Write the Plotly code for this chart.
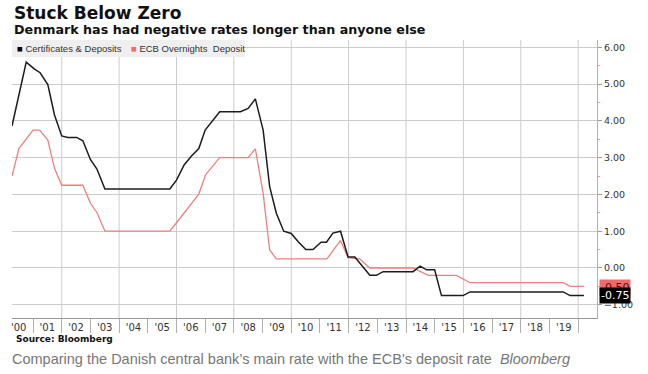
import plotly.graph_objects as go

# ---- data ----
dk_dates = ["2000-04-08", "2000-10-06", "2001-01-20", "2001-04-01", "2001-07-08", "2001-10-01",
            "2002-01-01", "2002-03-20", "2002-07-10", "2002-09-27", "2003-01-01", "2003-03-25",
            "2003-07-05", "2005-10-08", "2006-01-01", "2006-04-08", "2006-07-08", "2006-10-12",
            "2007-01-01", "2007-04-12", "2007-07-05", "2008-03-25", "2008-07-01", "2008-10-01",
            "2009-01-08", "2009-04-01", "2009-06-25", "2009-09-27", "2010-01-01", "2010-03-28",
            "2010-07-05", "2010-10-05", "2011-01-15", "2011-03-25", "2011-06-15", "2011-09-20",
            "2011-12-25", "2012-03-20", "2012-09-27", "2012-12-20", "2013-03-15", "2014-04-01",
            "2014-06-28", "2014-09-20", "2014-12-31", "2015-03-28", "2015-12-28", "2016-03-25",
            "2019-06-25", "2019-09-20", "2020-03-15"]
dk_values = [3.86, 5.60, 5.41, 5.31, 4.99, 4.16,
             3.59, 3.55, 3.55, 3.46, 2.95, 2.69,
             2.15, 2.15, 2.39, 2.80, 3.04, 3.25,
             3.75, 4.02, 4.25, 4.25, 4.34, 4.60,
             3.75, 2.21, 1.49, 1.00, 0.94, 0.72,
             0.50, 0.50, 0.70, 0.70, 0.95, 1.00,
             0.30, 0.30, -0.20, -0.20, -0.10, -0.10,
             0.05, -0.05, -0.05, -0.75, -0.75, -0.65,
             -0.65, -0.75, -0.75]

ecb_dates = ["2000-04-08", "2000-07-05", "2001-01-01", "2001-03-25", "2001-07-08", "2001-10-01",
             "2002-01-01", "2002-09-27", "2003-01-01", "2003-03-25", "2003-07-05", "2005-10-08",
             "2006-01-01", "2006-10-12", "2007-01-05", "2007-07-05", "2008-07-01", "2008-10-01",
             "2009-01-08", "2009-04-01", "2009-06-25", "2011-04-01", "2011-09-20", "2011-12-25",
             "2012-05-20", "2012-09-27", "2014-04-01", "2014-06-28", "2014-10-10", "2015-10-05",
             "2016-03-25", "2019-06-25", "2019-09-20", "2020-03-15"]
ecb_values = [2.50, 3.25, 3.75, 3.75, 3.48, 2.71,
              2.25, 2.25, 1.76, 1.51, 1.00, 1.00,
              1.23, 2.01, 2.53, 3.00, 3.00, 3.24,
              2.03, 0.49, 0.25, 0.25, 0.75, 0.28,
              0.25, 0.00, 0.00, -0.10, -0.20, -0.20,
              -0.40, -0.40, -0.50, -0.50]

years = list(range(2000, 2020))
year_labels = ["'00", "'01", "'02", "'03", "'04", "'05", "'06", "'07", "'08", "'09",
               "'10", "'11", "'12", "'13", "'14", "'15", "'16", "'17", "'18", "'19"]
grid_years = list(range(2002, 2021, 2))

series_names = ["Certificates & Deposits", "ECB Overnights  Deposit"]
last_labels = ["-0.75", "-0.50"]

# ---- styling ----
BLACK = "#1c1c1c"
RED = "#f07f7f"
AXIS_RED = "#f29595"
GRID = "#cccccc"
X_RANGE = ["2000-04-08", "2020-08-28"]
Y_RANGE = [-1.36, 6.2]

L, R, T, B = 12, 51, 40, 56
W, H = 648, 374
PH = H - T - B
PW = W - L - R


def px(xp):
    return (xp - L) / PW


def py(yp):
    return (H - B - yp) / PH


fig = go.Figure()
fig.add_trace(go.Scatter(x=ecb_dates, y=ecb_values, mode="lines", name=series_names[1],
                         line=dict(color=RED, width=1.3), showlegend=False))
fig.add_trace(go.Scatter(x=dk_dates, y=dk_values, mode="lines", name=series_names[0],
                         line=dict(color=BLACK, width=1.5), showlegend=False))

fig.update_layout(
    width=W, height=H,
    margin=dict(l=L, r=R, t=T, b=B, pad=0),
    paper_bgcolor="white", plot_bgcolor="white",
    font=dict(family="DejaVu Sans", color="#333"),
    xaxis=dict(
        type="date", range=X_RANGE, autorange=False,
        tickmode="array",
        tickvals=[f"{y}-07-02" for y in years],
        ticktext=year_labels,
        ticks="", showgrid=False, zeroline=False,
        showline=True, linecolor="#9a9a9a", linewidth=1,
        tickfont=dict(size=10, color="#333"),
        minor=dict(tickmode="linear", tick0="2000-01-01", dtick="M12",
                   ticks="outside", ticklen=14, tickcolor="#b0b0b0", showgrid=False),
    ),
    yaxis=dict(
        range=Y_RANGE, side="right", dtick=1, tick0=0, tickformat=".2f",
        showgrid=True, gridcolor=GRID, gridwidth=1, zeroline=False,
        showline=True, linecolor=AXIS_RED, linewidth=1,
        ticks="outside", ticklen=4, tickcolor="#999",
        tickfont=dict(size=9.5, color="#333"),
        minor=dict(dtick=0.5, ticks="outside", ticklen=2, tickcolor=AXIS_RED, showgrid=False),
    ),
)

# two-year vertical gridlines
for gy in grid_years:
    fig.add_shape(type="line", xref="x", yref="paper", x0=f"{gy}-01-01", x1=f"{gy}-01-01",
                  y0=0, y1=1, line=dict(color=GRID, width=1), layer="below")

# legend box
fig.add_shape(type="rect", xref="paper", yref="paper",
              x0=px(12), x1=px(245), y0=py(57), y1=py(40),
              fillcolor="#efefef", line=dict(width=0), layer="above")
fig.add_annotation(xref="paper", yref="paper", x=px(15), y=py(48.5), xanchor="left", yanchor="middle",
                   text=f"<span style='color:#000'>■</span> {series_names[0]}",
                   showarrow=False, font=dict(size=9.5, color="#333", family="Liberation Sans"))
fig.add_annotation(xref="paper", yref="paper", x=px(129), y=py(48.5), xanchor="left", yanchor="middle",
                   text=f"<span style='color:#f06a6a'>■</span> {series_names[1]}",
                   showarrow=False, font=dict(size=9.5, color="#333", family="Liberation Sans"))

# last value labels
fig.add_annotation(xref="paper", yref="y", x=1.0, y=ecb_values[-1], xanchor="left", yanchor="middle",
                   text=last_labels[1], showarrow=False, bgcolor="#f06a6a", borderpad=1,
                   font=dict(size=11, color="#5a0a0a", family="DejaVu Sans"), xshift=2, yshift=-1)
fig.add_annotation(xref="paper", yref="y", x=1.0, y=dk_values[-1], xanchor="left", yanchor="middle",
                   text=last_labels[0], showarrow=False, bgcolor="#000", borderpad=1,
                   font=dict(size=11, color="white", family="DejaVu Sans"), xshift=2)

# titles
fig.add_annotation(xref="paper", yref="paper", x=0, y=py(0.5), xanchor="left", yanchor="top",
                   text="<b>Stuck Below Zero</b>", showarrow=False,
                   font=dict(size=17, color="#111", family="DejaVu Sans"))
fig.add_annotation(xref="paper", yref="paper", x=0, y=py(19.5), xanchor="left", yanchor="top",
                   text="<b>Denmark has had negative rates longer than anyone else</b>", showarrow=False,
                   font=dict(size=12.7, color="#111", family="DejaVu Sans"))
fig.add_annotation(xref="paper", yref="paper", x=px(14), y=py(339), xanchor="left", yanchor="middle",
                   text="<b>Source: Bloomberg</b>", showarrow=False,
                   font=dict(size=9, color="#111", family="DejaVu Sans"))
fig.add_annotation(xref="paper", yref="paper", x=px(10), y=py(359), xanchor="left", yanchor="middle",
                   text="Comparing the Danish central bank’s main rate with the ECB’s deposit rate  <i>Bloomberg</i>",
                   showarrow=False, font=dict(size=14.5, color="#777", family="Liberation Sans"))

fig.write_html("out.html", config={"displayModeBar": False},
               post_script="document.body.style.margin='0';")
